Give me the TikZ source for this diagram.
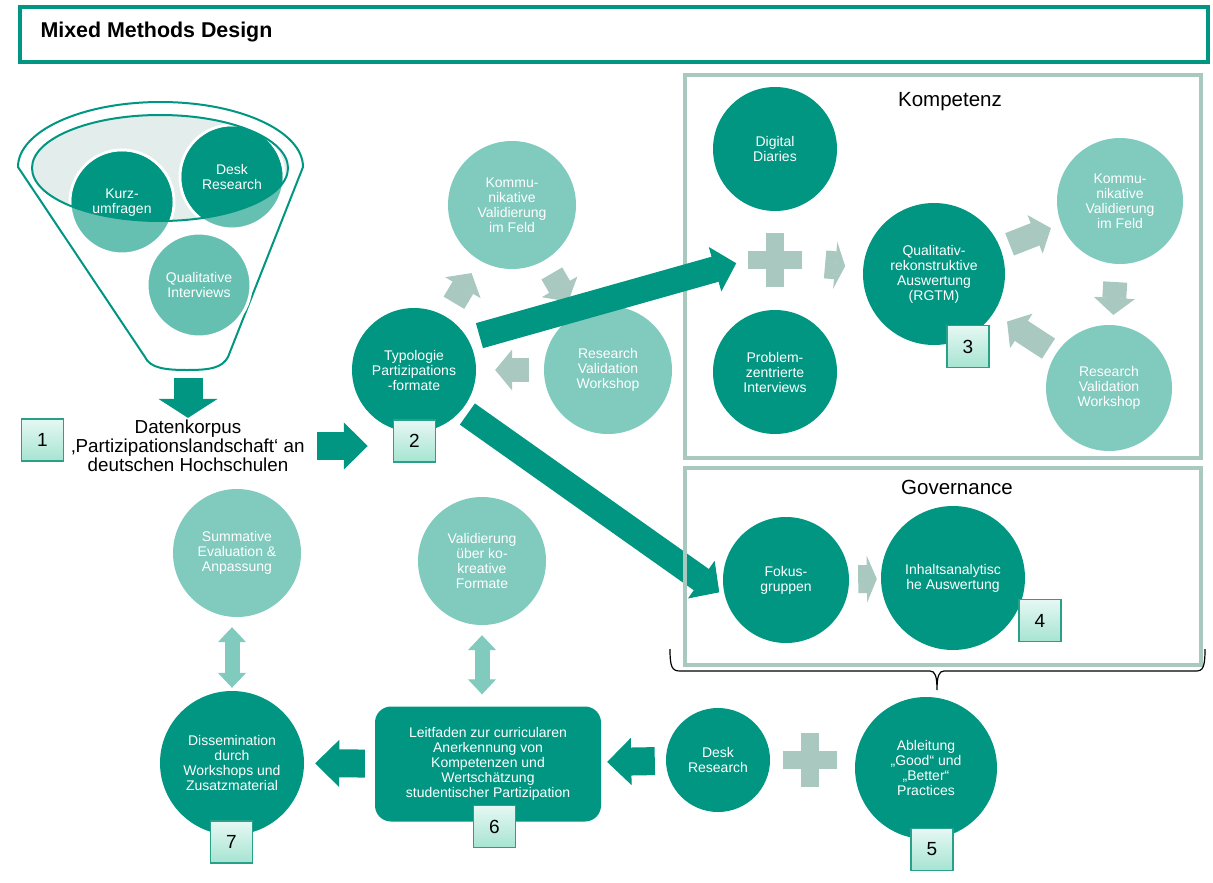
\documentclass[tikz,border=0pt]{standalone}
\usepackage{fontspec}
\setmainfont{Liberation Sans}
\usetikzlibrary{arrows.meta}

\definecolor{tealdark}{HTML}{009681}
\definecolor{teallight}{HTML}{80CABE}
\definecolor{tealfunnel}{HTML}{66C0B2}
\definecolor{grayteal}{HTML}{A9C8BF}
\definecolor{ellfill}{HTML}{E3EDEB}
\definecolor{badgetop}{HTML}{E6F8F3}
\definecolor{badgebot}{HTML}{A6E4D2}
\definecolor{badgeline}{HTML}{28A08A}

\tikzset{
	darkcircle/.style={circle, fill=tealdark, text=white, inner sep=0pt, align=center, font=\fontsize{14}{15}\selectfont},
	lightcircle/.style={darkcircle, fill=teallight},
	funneltext/.style={text=white, inner sep=0pt, align=center, font=\fontsize{14}{15}\selectfont},
	badge/.style={draw=badgeline, line width=1.5pt, top color=badgetop, bottom color=badgebot, minimum size=42pt, inner sep=0pt, font=\fontsize{19}{19}\selectfont},
	plusbar/.style={fill=grayteal, inner sep=0pt},
	groupbox/.style={draw=grayteal, line width=4pt},
	bigarrow/.style={tealdark, line width=26pt, -{Triangle[width=46pt, length=22pt, line width=1pt]}},
	tealarrow/.style={tealdark, line width=28pt, -{Triangle[width=47pt, length=24pt, line width=1pt]}},
	downarrow/.style={tealdark, line width=29pt, -{Triangle[width=59pt, length=19pt, line width=1pt]}},
	grayarrow/.style={grayteal, line width=24pt, -{Triangle[width=41pt, length=17pt, line width=1pt]}},
	graystub/.style={grayteal, line width=28pt, -{Triangle[width=47pt, length=10pt, line width=1pt]}},
	dblarrow/.style={teallight, line width=15pt, {Triangle[width=28pt, length=15pt, line width=1pt]}-{Triangle[width=28pt, length=15pt, line width=1pt]}}
}

\begin{document}
\begin{tikzpicture}[x=1pt, y=-1pt]
	\useasboundingbox (0,0) rectangle (1213,883);

	% titulo
	\draw[tealdark, line width=4pt] (20,7) rectangle (1208,62);
	\node[anchor=west, font=\bfseries\fontsize{21.4}{23}\selectfont] (titel) at (37,32) {Mixed Methods Design};

	% caja Kompetenz
	\draw[groupbox] (685,75) rectangle (1201,458);
	\node[font=\fontsize{20.5}{22}\selectfont] (kompetenz) at (950,102) {Kompetenz};

	% embudo con elipse interior
	\draw[tealdark, line width=2pt] (18,167) arc[start angle=180, end angle=360, x radius=142.5, y radius=65] -- (228,357) .. controls (222,368) and (210,370) .. (187,370) .. controls (165,370) and (150,368) .. (145,357) -- cycle;
	\fill[ellfill] (160,168) ellipse[x radius=128, y radius=53];
	\foreach \cx/\cy in {122/202, 232/177, 199/285}
		\draw[white, line width=3pt, fill=tealfunnel] (\cx,\cy) circle[radius=52];
	\begin{scope}
		\clip (160,168) ellipse[x radius=128, y radius=53];
		\foreach \cx/\cy in {122/202, 232/177, 199/285}
			\fill[tealdark] (\cx,\cy) circle[radius=50.5];
	\end{scope}
	\draw[tealdark, line width=2pt] (160,168) ellipse[x radius=128, y radius=53];
	\node[funneltext] (kurz) at (122,203) {Kurz-\\umfragen};
	\node[funneltext] (deskA) at (232,177) {Desk\\Research};
	\node[funneltext] (quali) at (199,285) {Qualitative\\Interviews};
	\coordinate (fbot) at (188,371);

	% datenkorpus
	\node[inner sep=0pt, align=center, font=\fontsize{18.8}{19}\selectfont] (korpus) at (188,446) {Datenkorpus\\‚Partizipationslandschaft‘ an\\deutschen Hochschulen};

	% circulos
	\node[darkcircle, minimum size=124pt] (typ) at (414,370) {Typologie\\Partizipations\\-formate};
	\node[lightcircle, minimum size=128pt] (komm1) at (512,205) {Kommu-\\nikative\\Validierung\\im Feld};
	\node[lightcircle, minimum size=128pt] (rvw1) at (608,370) {Research\\Validation\\Workshop};
	\node[darkcircle, minimum size=124pt] (diaries) at (775,149) {Digital\\Diaries};
	\node[darkcircle, minimum size=124pt] (pzi) at (775,372) {Problem-\\zentrierte\\Interviews};
	\node[darkcircle, minimum size=142pt] (rgtm) at (934,274) {Qualitativ-\\rekonstruktive\\Auswertung\\(RGTM)};
	\node[lightcircle, minimum size=126pt] (komm2) at (1120,201) {Kommu-\\nikative\\Validierung\\im Feld};
	\node[lightcircle, minimum size=126pt] (rvw2) at (1109,388) {Research\\Validation\\Workshop};
	\node[darkcircle, minimum size=126pt] (fokus) at (786,580) {Fokus-\\gruppen};
	\node[darkcircle, minimum size=144pt] (inh) at (953,578) {Inhaltsanalytisc\\he Auswertung};
	\node[darkcircle, minimum size=142pt] (ableit) at (926,768) {Ableitung\\„Good“ und\\„Better“\\Practices};
	\node[darkcircle, minimum size=104pt] (deskB) at (718,760) {Desk\\Research};
	\node[darkcircle, minimum size=144pt] (diss) at (232,763) {Dissemination\\durch\\Workshops und\\Zusatzmaterial};
	\node[lightcircle, minimum size=128pt] (summ) at (237,553) {Summative\\Evaluation \&\\Anpassung};
	\node[lightcircle, minimum size=128pt] (valid) at (482,561) {Validierung\\über ko-\\kreative\\Formate};
	\node[fill=tealdark, rounded corners=16pt, minimum width=226pt, minimum height=115pt, text=white, align=center, font=\fontsize{14}{15}\selectfont] (leit) at (488,764) {Leitfaden zur curricularen\\Anerkennung von\\Kompetenzen und\\Wertschätzung\\studentischer Partizipation};

	% signos mas
	\node[plusbar, minimum width=54pt, minimum height=18pt] (plusK) at (775,260) {};
	\node[plusbar, minimum width=18pt, minimum height=54pt] (plusKv) at (plusK) {};
	\node[plusbar, minimum width=54pt, minimum height=18pt] (plusD) at (810,760) {};
	\node[plusbar, minimum width=18pt, minimum height=54pt] (plusDv) at (plusD) {};

	% numeros
	\node[badge] (b1) at (42.5,440) {1};
	\node[badge] (b2) at (414.5,441) {2};
	\node[badge] (b3) at (968,346.5) {3};
	\node[badge] (b4) at (1040,620.5) {4};
	\node[badge] (b5) at (932,849.5) {5};
	\node[badge] (b6) at (494.5,826.5) {6};
	\node[badge] (b7) at (231.5,842) {7};

	% flechas
	\draw[downarrow, shorten <=7pt, shorten >=2pt] (fbot) -- (fbot |- korpus.north);
	\draw[tealarrow, shorten <=12pt, shorten >=25pt] (korpus.east) -- (korpus.east -| b2.west);
	\draw[grayarrow, shorten <=16pt, shorten >=15pt] (typ) -- (komm1);
	\draw[grayarrow, shorten <=15pt, shorten >=15pt] (komm1) -- (rvw1);
	\draw[grayarrow, shorten <=15pt, shorten >=19pt] (rvw1) -- (typ);
	\draw[bigarrow, shorten <=12pt, shorten >=12pt] (typ.30) -- (plusK.west);
	\draw[bigarrow, shorten <=7pt, shorten >=7pt] (typ.-40) -- (fokus.195);
	\draw[graystub, shorten <=23pt, shorten >=18pt] (plusK) -- (rgtm);
	\draw[grayarrow, shorten <=10pt, shorten >=11pt] (rgtm) -- (komm2);
	\draw[grayarrow, shorten <=18pt, shorten >=10pt] (komm2) -- (rvw2);
	\draw[grayarrow, shorten <=9pt, shorten >=16pt] (rvw2) -- (rgtm);
	\draw[graystub, shorten <=9pt, shorten >=4pt] (fokus) -- (inh);
	\draw[tealarrow, shorten <=11pt, shorten >=6pt] (deskB) -- (leit);
	\draw[tealarrow, shorten <=10pt, shorten >=11pt] (leit) -- (diss);
	\draw[dblarrow, shorten <=10pt, shorten >=3pt] (diss.north |- summ.south) -- (diss.north);
	\draw[dblarrow, shorten <=10pt, shorten >=12pt] (valid.south) -- (valid.south |- leit.north);

	% caja Governance
	\draw[groupbox] (685,468) rectangle (1201,665);
	\node[font=\fontsize{20.5}{22}\selectfont] (governance) at (957,487) {Governance};

	% llave
	\draw[line width=1.2pt] (670,649) .. controls (670,667) and (672,671) .. (680,671) -- (930,671) .. controls (935,671) and (937,676) .. (937,690) .. controls (937,676) and (939,671) .. (944,671) -- (1196,671) .. controls (1203,671) and (1205,667) .. (1205,649);
\end{tikzpicture}
\end{document}
